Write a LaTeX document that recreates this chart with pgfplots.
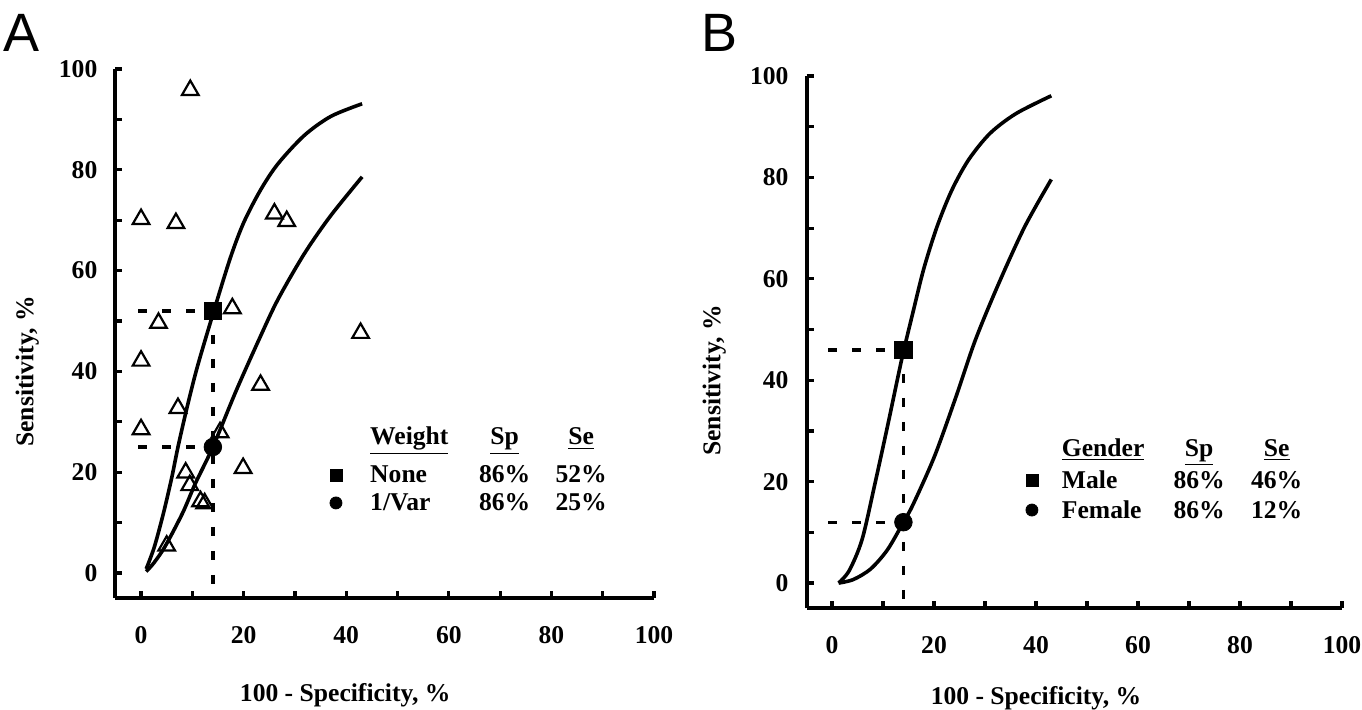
\documentclass[border=0pt]{standalone}
\usepackage{fontspec}
\setmainfont{Liberation Serif}
\newfontfamily\panelfont{Liberation Sans}
\usepackage{pgfplots}
\pgfplotsset{compat=1.18}

\newcommand\lbl{\bfseries\fontsize{12.8}{15}\selectfont}

\pgfplotsset{
  rocax/.style={
    scale only axis, anchor=south west, clip=false,
    axis lines=left, axis line style={-, line width=2pt},
    xmin=-5, xmax=100, ymin=-5, ymax=100,
    xtick={0,20,...,100}, ytick={0,20,...,100},
    minor xtick={10,30,...,90}, minor ytick={10,30,...,90},
    tick align=inside, major tick length=3.5pt, minor tick length=3.5pt,
    tick style={black, line width=1.6pt},
    tick label style={font=\lbl},
    /pgf/number format/assume math mode=true,
    xticklabel style={yshift=-10.5pt},
    yticklabel style={xshift=-5.5pt},
  },
  roc/.style={black, line width=1.8pt, smooth, tension=0.5, no markers},
  guide/.style={black, line width=1.7pt, dash pattern=on 4.5pt off 7.5pt, no markers},
  sq/.style={only marks, mark=square*, mark size=#1, mark options={black, fill=black}},
  dot/.style={only marks, mark=*, mark size=#1, mark options={black, fill=black}},
}

\begin{document}
\begin{tikzpicture}
\path[use as bounding box] (0pt,0pt) rectangle (681pt,354.5pt);

\node[font=\panelfont\fontsize{27}{30}\selectfont] at (11pt,338pt) {A};
\node[font=\panelfont\fontsize{27}{30}\selectfont] at (360pt,338pt) {B};

% ---------------- panel A
\begin{axis}[rocax, at={(57.7pt,55.4pt)}, width=269.3pt, height=264.6pt]
% None
\addplot[roc] coordinates {(1.0,0.8) (2.6,5.2) (4.4,12) (6.0,19) (7.2,25) (9.0,33)
  (11.0,41) (14.2,52) (17.4,62.5) (20,69.5) (23.3,76) (26.7,81.2) (31.8,86.8)
  (37,90.6) (43.1,93.1)};
% 1/Var
\addplot[roc] coordinates {(1.0,0.3) (2.5,2) (4.7,5.3) (8.1,11.9) (10.6,17.8) (14,25)
  (18.6,36.3) (23.3,47) (26.7,54.3) (31.8,63.3) (36.9,70.8) (43.1,78.6)};
\addplot[guide] coordinates {(-0.5,52) (14,52)};
\addplot[guide] coordinates {(-0.5,25) (14,25)};
\addplot[guide] coordinates {(14,52) (14,-5)};
% studies
\addplot[only marks, mark=triangle, mark size=4.8pt,
  mark options={black, fill=white, line width=1.1pt}] coordinates {
  (9.6,95.8) (0,70.2) (6.8,69.4) (26.0,71.3) (28.4,69.8) (17.8,52.5) (3.4,49.6)
  (42.8,47.6) (0,42.1) (23.3,37.3) (7.2,32.7) (0,28.5) (15.4,27.9) (19.9,20.8)
  (8.7,19.9) (9.5,17.4) (11.6,14.2) (12.4,13.8) (5.0,5.4)};
\addplot[sq=4.4pt] coordinates {(14,52)};
\addplot[dot=4.4pt] coordinates {(14,25)};
% key
\addplot[sq=3pt] coordinates {(38.0,19.4)};
\addplot[dot=3pt] coordinates {(38.0,13.9)};
\node[font=\lbl, anchor=base west] at (axis cs:43.3,25.4) {\underline{Weight}};
\node[font=\lbl, anchor=base] at (axis cs:70.9,25.4) {\underline{Sp}};
\node[font=\lbl, anchor=base] at (axis cs:85.8,25.4) {\underline{Se}};
\node[font=\lbl, anchor=base west] at (axis cs:43.3,17.9) {None};
\node[font=\lbl, anchor=base] at (axis cs:70.9,17.9) {86\%};
\node[font=\lbl, anchor=base] at (axis cs:85.8,17.9) {52\%};
\node[font=\lbl, anchor=base west] at (axis cs:43.3,12.4) {1/Var};
\node[font=\lbl, anchor=base] at (axis cs:70.9,12.4) {86\%};
\node[font=\lbl, anchor=base] at (axis cs:85.8,12.4) {25\%};
\node[font=\lbl, rotate=90] at (axis cs:-22.2,40) {Sensitivity, \%};
\node[font=\lbl] at (axis cs:39.8,-24.3) {100 - Specificity, \%};
\end{axis}

% ---------------- panel B
\begin{axis}[rocax, at={(403.25pt,50.3pt)}, width=267.75pt, height=266.2pt]
% Male
\addplot[roc] coordinates {(1.3,0) (3.4,2.5) (5.9,8.6) (8.4,19.5) (10.9,31) (13.0,41)
  (14,45.6) (15.9,53.5) (18,62) (20.6,70.3) (23.5,77.5) (26.8,83.5) (31,88.7)
  (36.1,92.6) (43,96.1)};
% Female
\addplot[roc] coordinates {(1.3,0) (4.2,0.7) (7.6,2.8) (10.9,6.6) (14,12) (15.9,15.5)
  (20.1,25) (24.3,36.7) (28.1,47.9) (32.7,59.1) (37.8,70.3) (43,79.6)};
\addplot[guide] coordinates {(-0.7,46) (14,46)};
\addplot[guide] coordinates {(-0.7,12) (14,12)};
\addplot[guide] coordinates {(14,46) (14,-5)};
\addplot[sq=4.4pt] coordinates {(14,46)};
\addplot[dot=4.4pt] coordinates {(14,12)};
% key
\addplot[sq=3pt] coordinates {(39.2,20.3)};
\addplot[dot=3pt] coordinates {(39.2,14.4)};
\node[font=\lbl, anchor=base west] at (axis cs:43.7,25.0) {\underline{Gender}};
\node[font=\lbl, anchor=base] at (axis cs:72.0,25.0) {\underline{Sp}};
\node[font=\lbl, anchor=base] at (axis cs:87.2,25.0) {\underline{Se}};
\node[font=\lbl, anchor=base west] at (axis cs:43.7,18.7) {Male};
\node[font=\lbl, anchor=base] at (axis cs:72.0,18.7) {86\%};
\node[font=\lbl, anchor=base] at (axis cs:87.2,18.7) {46\%};
\node[font=\lbl, anchor=base west] at (axis cs:43.7,12.8) {Female};
\node[font=\lbl, anchor=base] at (axis cs:72.0,12.8) {86\%};
\node[font=\lbl, anchor=base] at (axis cs:87.2,12.8) {12\%};
\node[font=\lbl, rotate=90] at (axis cs:-23.1,40) {Sensitivity, \%};
\node[font=\lbl] at (axis cs:40,-22.8) {100 - Specificity, \%};
\end{axis}
\end{tikzpicture}
\end{document}
